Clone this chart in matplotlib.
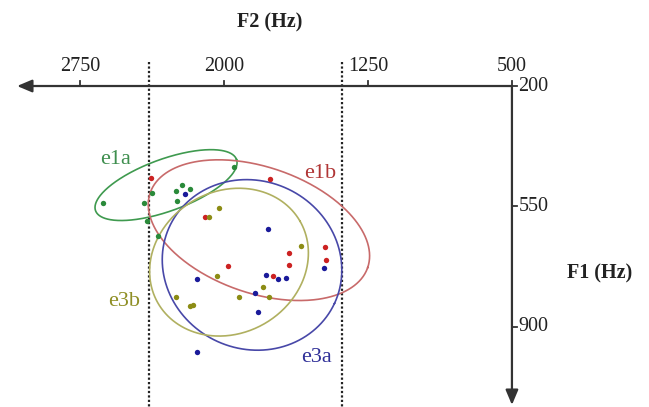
import numpy as np
import matplotlib
matplotlib.use("Agg")
import matplotlib.pyplot as plt

# ---------------- data ----------------
f2_ticks = [2750, 2000, 1250, 500]
f1_ticks = [200, 550, 900]
boundaries_f2 = [2390, 1385]

red_f2 = [2380, 1760, 2099, 1661, 1661, 1474, 1469, 1979, 1745]
red_f1 = [467, 470, 581, 685, 720, 668, 706, 723, 752]

blue_f2 = [2203, 1771, 1479, 1781, 1719, 1677, 2141, 1839, 1823, 2141]
blue_f1 = [514, 616, 729, 749, 761, 758, 761, 802, 857, 973]

olive_f2 = [2026, 2078, 1599, 2036, 1797, 1766, 1922, 2250, 2177, 2161]
olive_f1 = [555, 581, 665, 752, 784, 813, 813, 813, 840, 837]

green_f2 = [2630, 2417, 2401, 2344, 2375, 1948, 2219, 2250, 2177, 2245]
green_f1 = [540, 540, 592, 636, 511, 435, 488, 505, 499, 534]

# ellipse: label, centre F2, centre F1, semi-axes (px), angle (deg), colour, label pos
ellipse_names = ["e1a", "e1b", "e3a", "e3b"]
ellipse_c_f2 = [2302, 1818, 1854, 1974]
ellipse_c_f1 = [488, 619, 720, 712]
ellipse_a = [75, 115, 91, 82]
ellipse_b = [26, 63, 84, 71]
ellipse_ang = [20, -19, -25, 30]
ellipse_col = ["#3f9a4f", "#c86a6a", "#4848a8", "#b0b060"]
label_col = ["#3f8f4f", "#b03535", "#303098", "#8f8f25"]
label_f2 = [2565, 1500, 1520, 2520]
label_f1 = [415, 455, 990, 825]

# ---------------- figure ----------------
W, H = 649, 407
fig = plt.figure(figsize=(W / 100, H / 100), dpi=100)
ax = fig.add_axes([0, 0, 1, 1])
ax.set_xlim(3167, -214)
ax.set_ylim(1133, -50)
ax.axis("off")

serif = "Liberation Serif"
axcol = "#333333"

# axes with arrows
ax.annotate("", xy=(3078, 200), xytext=(500, 200),
            arrowprops=dict(arrowstyle="-|>,head_length=0.9,head_width=0.38",
                            color=axcol, lw=1.6, shrinkA=0, shrinkB=0))
ax.annotate("", xy=(500, 1127), xytext=(500, 200),
            arrowprops=dict(arrowstyle="-|>,head_length=0.9,head_width=0.38",
                            color=axcol, lw=1.6, shrinkA=0, shrinkB=0))

# ticks
for t in f2_ticks:
    ax.plot([t, t], [200, 185], color=axcol, lw=1.3)
    ax.text(t, 172, str(t), ha="center", va="bottom", fontsize=14.5,
            family=serif, color="#222222")
for t in f1_ticks:
    ax.plot([500, 474], [t, t], color=axcol, lw=1.3)
    ax.text(466, t, str(t), ha="left", va="center", fontsize=14.5,
            family=serif, color="#222222")

ax.text(1760, 14, "F2 (Hz)", ha="center", va="center", fontsize=14.5,
        family=serif, weight="bold", color="#222222")
ax.text(42, 745, "F1 (Hz)", ha="center", va="center", fontsize=14.5,
        family=serif, weight="bold", color="#222222")

# dotted boundary lines
for b in boundaries_f2:
    ax.plot([b, b], [130, 1133], color="#222222", lw=1.6, ls=(0, (1, 1)))

# ellipses (built in display pixels, converted back to data)
fig.canvas.draw()
tr = ax.transData
inv = tr.inverted()
phi = np.linspace(0, 2 * np.pi, 400)
for cx, cy, a, b, ang, col in zip(ellipse_c_f2, ellipse_c_f1, ellipse_a,
                                  ellipse_b, ellipse_ang, ellipse_col):
    c = tr.transform((cx, cy))
    th = np.deg2rad(ang)
    ex = a * np.cos(phi)
    ey = b * np.sin(phi)
    dx = ex * np.cos(th) - ey * np.sin(th)
    dy = ex * np.sin(th) + ey * np.cos(th)
    pts = inv.transform(np.column_stack([c[0] + dx, c[1] + dy]))
    ax.plot(pts[:, 0], pts[:, 1], color=col, lw=1.2)

for name, x, y, col in zip(ellipse_names, label_f2, label_f1, label_col):
    ax.text(x, y, name, ha="center", va="center", fontsize=16,
            family=serif, color=col)

# points
ms = 15
ax.scatter(green_f2, green_f1, s=ms, color="#2a8a3a", zorder=3, lw=0)
ax.scatter(red_f2, red_f1, s=ms, color="#cc2222", zorder=3, lw=0)
ax.scatter(olive_f2, olive_f1, s=ms, color="#8c8c14", zorder=3, lw=0)
ax.scatter(blue_f2, blue_f1, s=ms, color="#1a1a9a", zorder=3, lw=0)

fig.savefig("out.png", dpi=100)
